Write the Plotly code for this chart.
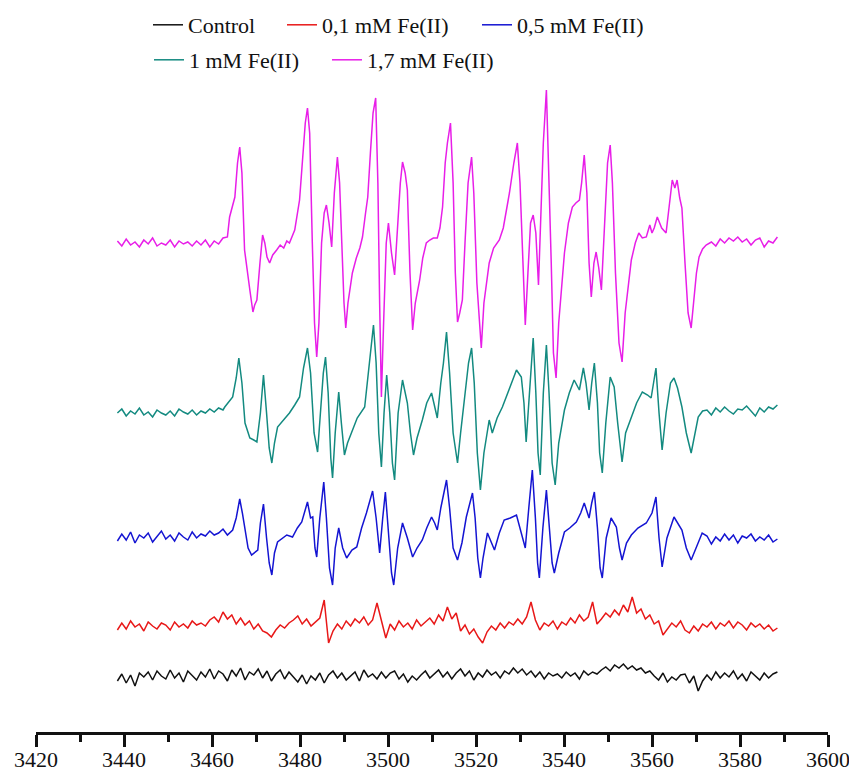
import numpy as np
import plotly.graph_objects as go

# ---------------- data (magnetic field in G, signal in arbitrary units) ----------------
names = ["Control", "0,1 mM Fe(II)", "0,5 mM Fe(II)", "1 mM Fe(II)", "1,7 mM Fe(II)"]
colors = ["#111111", "#e81818", "#1414d2", "#138a80", "#e81ee8"]
offsets = [55, 105, 194, 319, 489]          # vertical stacking of the spectra

grid_x = [float(v) for v in np.arange(3438.5, 3588.6, 1.0)]   # field sampling for control / 0,1 mM

ctrl_y = [-4, 3, -6, 2, -9, 4, 0, 5, -3, 6, 1, -2, 7, -1, 4, -5, 6, 2, -3, 5,
          0, 8, -2, 6, 3, -4, 7, 1, 9, -3, 5, 2, 8, -1, 6, -4, 3, 7, -2, 5,
          0, -5, 2, -7, 1, -3, 4, -6, 2, 6, -1, 4, -3, 1, 5, -4, 7, 0, 3, -2,
          5, -1, 4, 6, -2, 3, -5, 1, -3, 2, 6, -1, 3, 7, 0, 5, -2, 4, 8, 1,
          6, -3, 4, 0, 7, 2, 5, -1, 6, 3, 9, 4, 8, 2, 6, 0, 5, -2, 4, 1,
          3, -1, 5, 1, 4, -2, 6, 2, 5, 3, 7, 10, 6, 12, 9, 13, 8, 11, 7, 9,
          4, 6, 1, -3, 4, -5, 0, -3, 2, 3, -6, 1, -14, -4, 2, -3, 5, -1, 4, 0,
          6, -2, 3, -4, 5, 1, -3, 4, -1, 3, 5]

fe01_y = [-3, 4, -2, 6, 0, 3, -4, 5, 1, -2, 4, 2, -3, 5, 0, 3, -1, 6, 2, 4,
          1, 7, 10, 5, 15, 8, 12, 3, 9, 2, 6, -2, 3, -4, -6, -10, -3, 2, -1, 4,
          7, 11, 3, 8, 1, 5, 9, 27, -16, -4, 3, -2, 6, 1, 8, 4, 10, 2, 7, 24,
          5, -11, 3, -3, 6, 0, 4, -2, 7, 1, 5, 9, 3, 12, 6, 20, 8, 14, -4, 2,
          -7, -2, -10, -16, -5, 1, -3, 4, -1, 5, 2, 8, 3, 10, 25, 7, -3, 4, 1, 6,
          -2, 5, 2, 9, 4, 12, 6, 10, 25, 3, 8, 14, 10, 17, 12, 22, 15, 30, 14, 18,
          8, 12, 3, 6, -8, -2, 4, 0, 6, -3, -6, 1, -4, 3, 0, 5, -2, 4, 1, 6,
          -1, 5, 2, -3, 4, 0, 3, -2, 2, -4, -1]

# 0,5 mM Fe(II)
fe05_left = [-3, 4, -2, 6, -5, 3, 0, 5, -4, 2, 7, -1, 3, -3, 5, 1, -2, 6, 0, 4, 2, 7, 3, 5, 9]
fe05_pts = [(3463.5, 3), (3464.7, 8), (3465.5, 20), (3466.3, 39), (3466.9, 25), (3467.4, 11),
            (3468.2, -10), (3469.0, -17), (3469.8, -14), (3470.4, -12), (3471.0, 15), (3471.7, 34),
            (3472.4, 0), (3473.0, -25), (3473.6, -37), (3474.2, -15), (3474.9, -4), (3476.0, 0),
            (3477.0, 3), (3478.3, 1), (3479.4, 10), (3480.4, 16), (3481.7, 36), (3482.4, 20),
            (3482.9, 21), (3483.4, -10), (3483.8, -19), (3484.5, 20), (3485.4, 56), (3486.0, 20),
            (3486.7, -30), (3487.4, -47), (3488.0, -10), (3488.8, 10), (3489.7, -10), (3490.6, -20),
            (3491.8, -12), (3492.9, -9), (3494.0, 10), (3495.1, 25), (3496.5, 47), (3497.3, 20),
            (3498.1, -15), (3498.8, 20), (3499.4, 46), (3500.2, 0), (3500.8, -35), (3501.3, -47),
            (3502.2, -10), (3503.3, 15), (3504.4, 0), (3505.6, -19), (3506.6, -10), (3507.8, -2),
            (3508.8, 10), (3509.9, 21), (3510.6, 15), (3511.2, 8), (3512.0, 30), (3513.3, 58),
            (3514.0, 30), (3514.8, -10), (3515.8, -22), (3516.8, -5), (3517.8, 21), (3519.2, 45),
            (3519.8, 20), (3520.4, -20), (3521.0, -40), (3521.6, -20), (3522.6, 5), (3524.2, -12),
            (3525.3, 5), (3526.4, 18), (3527.8, 20), (3529.2, 23), (3530.0, 10), (3531.2, -10),
            (3532.0, 30), (3532.8, 68), (3533.5, 20), (3534.0, -25), (3534.4, -40), (3535.2, 10),
            (3536.0, 48), (3536.7, 10), (3537.3, -25), (3537.8, -35), (3538.8, -15), (3540.1, 6),
            (3541.3, 10), (3542.8, 16), (3543.8, 25), (3544.6, 35), (3545.7, 20), (3546.3, 35),
            (3546.9, 46), (3547.6, 10), (3548.2, -30), (3548.7, -40), (3549.6, 0), (3550.7, 20),
            (3551.9, 11), (3552.6, -10), (3553.2, -22), (3554.2, -5), (3555.3, 3), (3556.8, 10),
            (3558.7, 15), (3560.0, 25), (3560.9, 41), (3561.6, 0), (3562.3, -29), (3563.4, 0),
            (3565.0, 21), (3566.8, 8), (3567.8, -10), (3568.9, -22), (3570.0, -10), (3571.4, 5)]
fe05_right = [2, -6, 1, -3, 4, -2, 3, -5, 2, 0, 4, -3, 1, -2, 3, -4, -1]

# 1 mM Fe(II)
fe1_left = [0, 4, -3, 2, -1, 5, -2, 1, -4, 3, 0, -2, 2, -3, 4, 1, -1, 3, -2, 2, 0, 4, 1, 5, 3]
fe1_pts = [(3462.9, 6), (3464.7, 16), (3465.5, 35), (3466.1, 55), (3466.8, 30), (3467.5, -10),
           (3468.6, -25), (3469.5, -27), (3470.2, -29), (3471.0, 0), (3471.7, 38), (3472.4, 0),
           (3473.0, -35), (3473.6, -50), (3474.2, -30), (3474.9, -14), (3476.0, -8), (3477.6, 0),
           (3478.8, 8), (3479.9, 16), (3480.8, 45), (3481.7, 65), (3482.4, 40), (3483.2, -20),
           (3484.0, -39), (3484.6, 0), (3485.3, 40), (3485.8, 56), (3486.4, 20), (3487.0, -45),
           (3487.4, -65), (3488.0, -20), (3488.8, 21), (3489.4, -10), (3490.1, -42), (3490.8, -30),
           (3491.9, -17), (3493.0, -5), (3494.7, 6), (3495.6, 40), (3496.7, 88), (3497.3, 50),
           (3497.9, -20), (3498.5, -54), (3499.1, 0), (3499.7, 38), (3500.4, 0), (3501.0, -50),
           (3501.5, -67), (3502.3, 0), (3503.3, 33), (3504.4, 10), (3505.1, -20), (3505.8, -42),
           (3506.6, -25), (3507.8, -7), (3508.8, 10), (3509.9, 20), (3510.6, 5), (3511.2, -5),
           (3512.0, 30), (3512.6, 50), (3513.3, 81), (3514.0, 40), (3514.8, -20), (3515.8, -50),
           (3516.5, -20), (3517.5, 20), (3518.3, 50), (3519.0, 65), (3519.6, 30), (3520.3, -40),
           (3521.0, -77), (3521.8, -40), (3523.0, -7), (3523.7, -20), (3524.8, -5), (3526.0, 6),
           (3527.6, 25), (3529.2, 43), (3530.3, 36), (3530.9, 10), (3531.4, -29), (3532.2, 20),
           (3533.0, 75), (3533.6, 20), (3534.1, -40), (3534.6, -62), (3535.3, 20), (3536.0, 68),
           (3536.6, 20), (3537.3, -50), (3538.0, -72), (3538.8, -30), (3540.1, 3), (3541.2, 20),
           (3542.3, 33), (3543.5, 23), (3544.4, 45), (3545.0, 30), (3545.7, 3), (3546.3, 30),
           (3546.9, 50), (3547.6, 10), (3548.1, -40), (3548.7, -60), (3549.5, -10), (3550.5, 36),
           (3551.4, 26), (3552.2, -10), (3553.2, -49), (3554.0, -20), (3555.3, -4), (3556.5, 10),
           (3557.8, 21), (3559.0, 18), (3559.8, 15), (3560.9, 45), (3561.6, 0), (3562.3, -37),
           (3563.2, 0), (3564.2, 30), (3565.0, 35), (3565.8, 25), (3566.8, 6), (3567.8, -20),
           (3568.9, -40), (3569.6, -25), (3570.5, -4), (3571.5, 2)]
fe1_right = [3, -2, 5, 1, 6, 2, -1, 4, 3, 7, 2, -3, 5, 1, 6, 4, 8]

# 1,7 mM Fe(II)
fe17_left = [2, -3, 4, -2, 1, -4, 3, -1, 5, -3, 0, -2, 3, -4, 2, -1, 1, -3, 2, -2, 3, -4, 2, -1, 5]
fe17_pts = [(3463.5, 6), (3464.0, 26), (3465.2, 46), (3465.8, 80), (3466.3, 96), (3466.8, 70),
            (3467.4, -7), (3468.6, -47), (3469.0, -60), (3469.3, -69), (3469.7, -62), (3470.2, -57),
            (3470.9, -20), (3471.5, 8), (3472.0, 0), (3472.5, -14), (3473.1, -20), (3473.8, -12),
            (3474.7, -7), (3475.5, -2), (3476.3, -5), (3477.0, 2), (3477.6, 0), (3478.2, 6),
            (3478.8, 13), (3479.9, 43), (3480.6, 80), (3481.2, 120), (3481.7, 135), (3482.2, 110),
            (3482.8, 0), (3483.3, -80), (3483.8, -114), (3484.3, -80), (3484.9, 0), (3485.5, 30),
            (3486.0, 38), (3486.6, 20), (3487.2, -4), (3487.8, 50), (3488.5, 86), (3489.0, 60),
            (3489.5, 0), (3490.0, -60), (3490.4, -85), (3490.9, -60), (3491.9, -30), (3492.8, -15),
            (3493.6, -5), (3494.2, 6), (3494.9, 30), (3495.4, 46), (3496.0, 90), (3496.6, 130),
            (3497.2, 145), (3497.7, 60), (3498.1, -60), (3498.5, -154), (3499.0, -80), (3499.6, 0),
            (3500.1, 20), (3500.8, -10), (3501.5, -32), (3502.2, 20), (3502.8, 60), (3503.3, 81),
            (3503.9, 70), (3504.4, 53), (3505.0, -30), (3505.6, -87), (3506.2, -60), (3507.2, -37),
            (3507.9, -15), (3508.7, 0), (3509.5, 3), (3510.3, 5), (3511.2, 5), (3511.8, 15),
            (3512.4, 36), (3513.0, 80), (3513.5, 100), (3514.2, 120), (3514.8, 60), (3515.3, -30),
            (3515.8, -79), (3516.3, -70), (3516.9, -57), (3517.5, 0), (3518.2, 60), (3519.0, 86),
            (3519.5, 50), (3520.2, -40), (3521.2, -105), (3521.8, -60), (3523.0, -20), (3524.0, -5),
            (3525.3, 3), (3526.2, 15), (3527.6, 50), (3528.6, 80), (3529.4, 100), (3530.0, 60),
            (3530.6, -20), (3531.2, -82), (3531.8, -30), (3532.4, 20), (3533.0, 28), (3533.6, 10),
            (3534.2, -42), (3534.7, 20), (3535.3, 100), (3536.0, 153), (3536.5, 80), (3537.1, -20),
            (3537.6, -110), (3538.2, -135), (3538.8, -80), (3540.1, -10), (3541.0, 20), (3541.9, 36),
            (3542.7, 40), (3543.5, 43), (3544.0, 60), (3544.6, 88), (3545.2, 50), (3545.7, -20),
            (3546.2, -54), (3546.8, -20), (3547.3, -9), (3547.9, -25), (3548.5, -47), (3549.2, 20),
            (3549.9, 80), (3550.5, 98), (3551.0, 60), (3551.7, -30), (3552.5, -100), (3553.2, -119),
            (3553.9, -70), (3555.3, -17), (3556.2, 0), (3557.0, 10), (3557.8, 5), (3558.7, 6),
            (3559.5, 18), (3560.0, 10), (3560.5, 15), (3561.2, 26), (3562.2, 15), (3563.2, 10),
            (3564.0, 40), (3564.6, 63), (3565.2, 55), (3565.7, 63), (3566.3, 45), (3566.8, 35),
            (3567.5, -20), (3568.2, -70), (3568.9, -85), (3569.5, -60), (3570.1, -30), (3570.7, -14),
            (3571.5, -6), (3572.3, -2)]
fe17_right = [1, -3, 4, 0, 5, 2, 6, 1, 4, -2, 3, 5, -4, 2, 0, 6]


# ---------------- assemble series ----------------
def build(left, pts, right, right_start):
    lx = [3438.5 + k for k in range(len(left))]
    rx = [right_start + k for k in range(len(right))]
    px = [float(p[0]) for p in pts]
    py = [float(p[1]) for p in pts]
    return lx + px + rx, [float(v) for v in left] + py + [float(v) for v in right]


series = [
    (grid_x, [float(v) for v in ctrl_y]),
    (grid_x, [float(v) for v in fe01_y]),
    build(fe05_left, fe05_pts, fe05_right, 3572.5),
    build(fe1_left, fe1_pts, fe1_right, 3572.5),
    build(fe17_left, fe17_pts, fe17_right, 3573.5),
]

# legend placement inside the figure (pixels, converted to container fractions)
legend_keys = ["legend", "legend2", "legend3", "legend4", "legend5"]
legend_pos = [(140, 17), (274, 17), (469, 17), (141, 52), (319, 52)]

fig = go.Figure()
for i, (xs, ys) in enumerate(series):
    fig.add_trace(go.Scatter(
        x=xs, y=[v + offsets[i] for v in ys], mode="lines", name=names[i],
        line=dict(color=colors[i], width=1.5), legend=legend_keys[i],
    ))

W, H = 857, 774
layout_legends = {}
for key, (lx, ly) in zip(legend_keys, legend_pos):
    layout_legends[key] = dict(
        xref="container", yref="container", x=lx / W, y=1 - ly / H,
        xanchor="left", yanchor="middle", bgcolor="rgba(0,0,0,0)",
        font=dict(family="Liberation Serif", size=22, color="#111111"),
        borderwidth=0,
    )

fig.update_layout(
    width=W, height=H,
    margin=dict(l=28, r=37, t=72, b=50, autoexpand=False),
    paper_bgcolor="white", plot_bgcolor="white",
    showlegend=True,
    **layout_legends,
)
fig.update_xaxes(
    range=[3420, 3600], tickmode="linear", tick0=3420, dtick=20,
    showline=True, linecolor="#111111", linewidth=2.5,
    ticks="outside", ticklen=12, tickwidth=2.5, tickcolor="#111111",
    minor=dict(dtick=10, tick0=3420, ticks="outside", ticklen=7, tickwidth=2.5, tickcolor="#111111"),
    showgrid=False, zeroline=False, automargin=False,
    ticklabelstandoff=-6,
    tickfont=dict(family="Liberation Serif", size=22, color="#111111"),
)
fig.update_yaxes(visible=False, range=[0, 652], showgrid=False, zeroline=False, automargin=False)

fig.write_html("out.html")
